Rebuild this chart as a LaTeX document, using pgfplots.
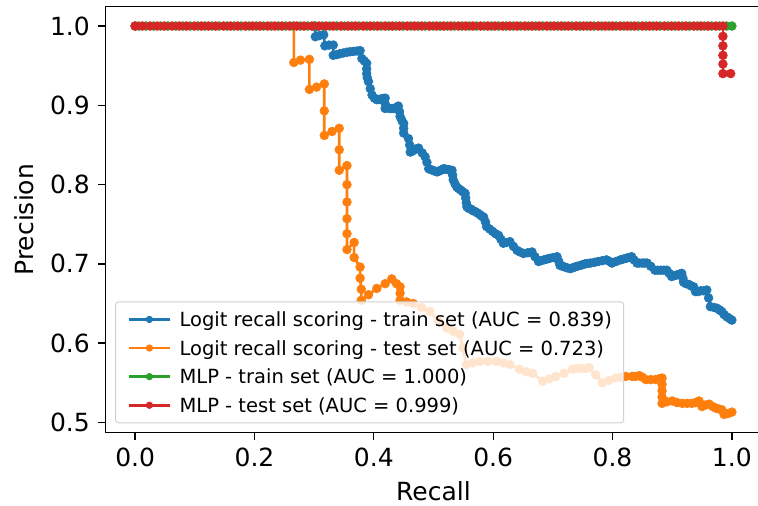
\documentclass[border=0pt]{standalone}
\usepackage{fontspec}
\setmainfont{DejaVu Sans}
\usepackage{pgfplots}
\pgfplotsset{compat=1.18}
\definecolor{tabblue}{HTML}{1F77B4}
\definecolor{taborange}{HTML}{FF7F0E}
\definecolor{tabgreen}{HTML}{2CA02C}
\definecolor{tabred}{HTML}{D62728}
\begin{document}
\begin{tikzpicture}
\path[use as bounding box] (-105.3bp,-73.3bp) rectangle (652.7bp,432.7bp);
\begin{axis}[
  scale only axis, width=656.4bp, height=426bp,
  xmin=-0.05, xmax=1.05, ymin=0.487, ymax=1.0244,
  xtick={0,0.2,0.4,0.6,0.8,1.0}, xticklabels={0.0,0.2,0.4,0.6,0.8,1.0},
  ytick={0.5,0.6,0.7,0.8,0.9,1.0}, yticklabels={0.5,0.6,0.7,0.8,0.9,1.0},
  tick align=outside, major tick length=7bp, tick pos=left,
  every tick/.style={black, line width=1.3bp},
  axis line style={line width=1.3bp, black},
  tick label style={font=\fontsize{25bp}{30bp}\selectfont},
  xticklabel style={inner sep=0pt, text height=18.2bp, text depth=0pt, yshift=-8bp},
  yticklabel style={inner sep=0pt, text height=18.2bp, text depth=0pt, xshift=-8.3bp},
  xlabel={Recall}, ylabel={Precision},
  every axis x label/.style={at={(axis description cs:0.5,-0.1603)}, anchor=base, font=\fontsize{25bp}{30bp}\selectfont},
  every axis y label/.style={at={(axis description cs:-0.1097,0.5)}, rotate=90, anchor=base, font=\fontsize{25bp}{30bp}\selectfont},
  legend cell align=left,
  legend style={at={(0.01478,0.02207)}, anchor=south west,
    font=\fontsize{19.5bp}{23bp}\selectfont,
    fill=white, fill opacity=0.8, text opacity=1, draw=black!18, line width=1bp,
    rounded corners=3bp, inner xsep=11.7bp, inner ysep=10.3bp,
    row sep=14.1bp, column sep=8bp,
    nodes={anchor=west, inner sep=0pt, text height=14.5bp, text depth=0pt}},
  legend image code/.code={\draw[#1, mark repeat=2, mark phase=2] plot coordinates {(0bp,0bp) (20.85bp,0bp) (41.7bp,0bp)};},
  legend image post style={fill opacity=1, draw opacity=1, mark size=3.3bp, line width=2.7bp},
]
% Logit - train
\addplot[color=tabblue, line width=2.7bp, mark=*, mark size=4.4bp, mark options={line width=0.6bp}] coordinates {
(0,1) (0.30,1) (0.302,0.999) (0.302,0.9865) (0.309,0.988) (0.316,0.989) (0.318,0.975) (0.325,0.976) (0.332,0.976) (0.332,0.963) (0.338,0.964) (0.343,0.965) (0.349,0.966) (0.355,0.967) (0.360,0.9675) (0.366,0.968) (0.372,0.9685) (0.377,0.969) (0.380,0.959) (0.384,0.956) (0.388,0.953) (0.388,0.946) (0.388,0.940) (0.389,0.935) (0.391,0.930) (0.394,0.921) (0.397,0.913) (0.401,0.909) (0.405,0.907) (0.409,0.9075) (0.412,0.908) (0.416,0.9085) (0.419,0.909) (0.419,0.902) (0.419,0.896) (0.426,0.896) (0.430,0.896) (0.433,0.896) (0.437,0.897) (0.441,0.899) (0.443,0.892) (0.444,0.886) (0.447,0.881) (0.450,0.877) (0.450,0.871) (0.450,0.865) (0.458,0.858) (0.460,0.850) (0.461,0.841) (0.464,0.842) (0.468,0.844) (0.471,0.845) (0.475,0.846) (0.481,0.840) (0.486,0.835) (0.489,0.828) (0.492,0.820) (0.495,0.819) (0.499,0.818) (0.502,0.817) (0.506,0.816) (0.509,0.817) (0.512,0.818) (0.515,0.819) (0.517,0.820) (0.520,0.8195) (0.524,0.819) (0.527,0.8185) (0.531,0.818) (0.532,0.812) (0.533,0.806) (0.536,0.801) (0.539,0.797) (0.542,0.795) (0.546,0.793) (0.549,0.791) (0.553,0.789) (0.554,0.783) (0.555,0.777) (0.556,0.772) (0.559,0.770) (0.563,0.769) (0.566,0.767) (0.570,0.766) (0.574,0.764) (0.578,0.762) (0.581,0.760) (0.584,0.759) (0.587,0.753) (0.589,0.747) (0.594,0.744) (0.599,0.741) (0.604,0.738) (0.609,0.736) (0.613,0.731) (0.617,0.726) (0.622,0.727) (0.628,0.728) (0.634,0.722) (0.640,0.717) (0.645,0.715) (0.651,0.713) (0.658,0.714) (0.665,0.715) (0.670,0.709) (0.676,0.703) (0.680,0.704) (0.685,0.705) (0.690,0.706) (0.695,0.707) (0.701,0.708) (0.707,0.709) (0.710,0.703) (0.712,0.698) (0.716,0.697) (0.720,0.696) (0.724,0.695) (0.729,0.694) (0.733,0.695) (0.737,0.696) (0.741,0.697) (0.746,0.698) (0.750,0.699) (0.754,0.700) (0.758,0.7005) (0.763,0.701) (0.770,0.702) (0.776,0.703) (0.783,0.704) (0.790,0.705) (0.795,0.703) (0.799,0.701) (0.806,0.703) (0.813,0.705) (0.818,0.706) (0.823,0.707) (0.827,0.708) (0.832,0.709) (0.836,0.705) (0.841,0.701) (0.845,0.701) (0.850,0.701) (0.854,0.701) (0.858,0.701) (0.864,0.697) (0.871,0.692) (0.876,0.692) (0.881,0.692) (0.886,0.692) (0.891,0.692) (0.895,0.688) (0.899,0.684) (0.903,0.685) (0.908,0.686) (0.912,0.687) (0.916,0.688) (0.918,0.682) (0.919,0.677) (0.923,0.675) (0.928,0.674) (0.932,0.672) (0.936,0.671) (0.939,0.665) (0.943,0.665) (0.948,0.666) (0.953,0.666) (0.958,0.667) (0.961,0.657) (0.964,0.646) (0.970,0.645) (0.975,0.644) (0.979,0.642) (0.983,0.640) (0.987,0.636) (0.992,0.633) (0.996,0.631) (1.0,0.629)
};
\addlegendentry{Logit recall scoring - train set (AUC = 0.839)}
% Logit - test
\addplot[color=taborange, line width=2.7bp, mark=*, mark size=4.4bp, mark options={line width=0.6bp}] coordinates {
(0,1) (0.266,1) (0.266,0.954) (0.277,0.957) (0.292,0.958) (0.292,0.920) (0.304,0.923) (0.317,0.927) (0.317,0.893) (0.317,0.862) (0.330,0.867) (0.342,0.871) (0.342,0.844) (0.342,0.818) (0.355,0.824) (0.355,0.800) (0.355,0.778) (0.355,0.757) (0.355,0.738) (0.355,0.718) (0.367,0.727) (0.367,0.708) (0.377,0.696) (0.377,0.682) (0.379,0.668) (0.379,0.654) (0.391,0.661) (0.405,0.669) (0.419,0.675) (0.430,0.681) (0.438,0.675) (0.444,0.671) (0.444,0.663) (0.444,0.654) (0.455,0.652) (0.466,0.650) (0.480,0.645) (0.494,0.640) (0.508,0.628) (0.522,0.619) (0.533,0.615) (0.544,0.611) (0.549,0.594) (0.555,0.573) (0.566,0.575) (0.578,0.577) (0.591,0.577) (0.605,0.577) (0.617,0.575) (0.628,0.573) (0.644,0.567) (0.655,0.564) (0.666,0.562) (0.683,0.552) (0.694,0.555) (0.705,0.558) (0.719,0.562) (0.733,0.567) (0.740,0.568) (0.747,0.568) (0.754,0.568) (0.761,0.569) (0.772,0.560) (0.783,0.550) (0.794,0.553) (0.805,0.556) (0.814,0.557) (0.822,0.558) (0.833,0.558) (0.839,0.558) (0.845,0.559) (0.850,0.557) (0.856,0.554) (0.864,0.554) (0.872,0.554) (0.878,0.555) (0.883,0.556) (0.883,0.548) (0.883,0.540) (0.883,0.532) (0.883,0.524) (0.891,0.526) (0.900,0.527) (0.908,0.525) (0.917,0.524) (0.925,0.524) (0.933,0.524) (0.939,0.525) (0.945,0.527) (0.950,0.520) (0.956,0.522) (0.962,0.523) (0.968,0.520) (0.973,0.518) (0.978,0.517) (0.983,0.516) (0.987,0.510) (0.993,0.511) (1.0,0.513)
};
\addlegendentry{Logit recall scoring - test set (AUC = 0.723)}
% MLP - train
\addplot[color=tabgreen, line width=2.7bp, mark=*, mark size=4.4bp, mark options={line width=0.6bp}] coordinates {
(0.006,1) (0.018,1) (0.031,1) (0.043,1) (0.055,1) (0.068,1) (0.080,1) (0.092,1) (0.105,1) (0.117,1) (0.129,1) (0.141,1) (0.154,1) (0.166,1) (0.178,1) (0.191,1) (0.203,1) (0.215,1) (0.228,1) (0.240,1) (0.252,1) (0.265,1) (0.277,1) (0.289,1) (0.302,1) (0.314,1) (0.326,1) (0.338,1) (0.351,1) (0.363,1) (0.375,1) (0.388,1) (0.400,1) (0.412,1) (0.425,1) (0.437,1) (0.449,1) (0.462,1) (0.474,1) (0.486,1) (0.499,1) (0.511,1) (0.523,1) (0.535,1) (0.548,1) (0.560,1) (0.572,1) (0.585,1) (0.597,1) (0.609,1) (0.622,1) (0.634,1) (0.646,1) (0.659,1) (0.671,1) (0.683,1) (0.696,1) (0.708,1) (0.720,1) (0.732,1) (0.745,1) (0.757,1) (0.769,1) (0.782,1) (0.794,1) (0.806,1) (0.819,1) (0.831,1) (0.843,1) (0.856,1) (0.868,1) (0.880,1) (0.893,1) (0.905,1) (0.917,1) (0.929,1) (0.942,1) (0.954,1) (0.966,1) (0.979,1) (0.991,1) (1.0,1)
};
\addlegendentry{MLP - train set (AUC = 1.000)}
% MLP - test
\addplot[color=tabred, line width=2.7bp, mark=*, mark size=4.4bp, mark options={line width=0.6bp}] coordinates {
(0,1) (0.012,1) (0.025,1) (0.037,1) (0.049,1) (0.062,1) (0.074,1) (0.086,1) (0.099,1) (0.111,1) (0.123,1) (0.135,1) (0.148,1) (0.160,1) (0.172,1) (0.185,1) (0.197,1) (0.209,1) (0.222,1) (0.234,1) (0.246,1) (0.259,1) (0.271,1) (0.283,1) (0.296,1) (0.308,1) (0.320,1) (0.332,1) (0.345,1) (0.357,1) (0.369,1) (0.382,1) (0.394,1) (0.406,1) (0.419,1) (0.431,1) (0.443,1) (0.456,1) (0.468,1) (0.480,1) (0.493,1) (0.505,1) (0.517,1) (0.529,1) (0.542,1) (0.554,1) (0.566,1) (0.579,1) (0.591,1) (0.603,1) (0.616,1) (0.628,1) (0.640,1) (0.653,1) (0.665,1) (0.677,1) (0.690,1) (0.702,1) (0.714,1) (0.726,1) (0.739,1) (0.751,1) (0.763,1) (0.776,1) (0.788,1) (0.800,1) (0.813,1) (0.825,1) (0.837,1) (0.850,1) (0.862,1) (0.874,1) (0.887,1) (0.899,1) (0.911,1) (0.923,1) (0.936,1) (0.948,1) (0.960,1) (0.973,1) (0.985,1) (0.985,0.987) (0.985,0.975) (0.985,0.963) (0.985,0.952) (0.985,0.940) (0.998,0.940)
};
\addlegendentry{MLP - test set (AUC = 0.999)}
\end{axis}
\end{tikzpicture}
\end{document}
